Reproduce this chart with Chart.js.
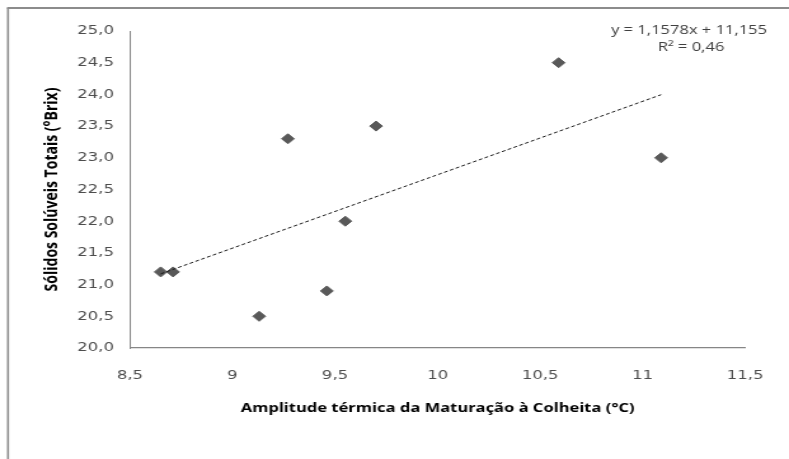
<!DOCTYPE html>
<html>
<head>
<meta charset="utf-8">
<script src="https://cdn.jsdelivr.net/npm/chart.js@4.4.1/dist/chart.umd.min.js"></script>
<style>
  html, body { margin: 0; padding: 0; background: #fff; }
  #wrap { width: 789px; height: 459px; }
</style>
</head>
<body>
<!-- the original figure was stretched sideways, so the canvas is drawn narrower and stretched back -->
<div id="wrap"><canvas id="chart" width="621" height="459" style="width:789px;height:459px;display:block"></canvas></div>
<script>
// amplitude térmica (°C) x sólidos solúveis totais (°Brix)
const amplitude = [8.65, 8.71, 9.13, 9.27, 9.46, 9.55, 9.70, 10.59, 11.09];
const brix = [21.2, 21.2, 20.5, 23.3, 20.9, 22.0, 23.5, 24.5, 23.0];

const xTickLabels = ['8,5', '9', '9,5', '10', '10,5', '11', '11,5'];
const yTickLabels = ['20,0', '20,5', '21,0', '21,5', '22,0', '22,5', '23,0', '23,5', '24,0', '24,5', '25,0'];

// linha de tendência (Excel)
const slope = 1.1578;
const intercept = 11.155;
const eqLabel = 'y = 1,1578x + 11,155';
const r2Label = 'R² = 0,46';

const xTitle = 'Amplitude térmica da Maturação à Colheita (°C)';
const yTitle = 'Sólidos Solúveis Totais (°Brix)';

const points = amplitude.map((x, i) => ({ x, y: brix[i] }));
const xMin = Math.min(...amplitude);
const xMax = Math.max(...amplitude);
const trend = [xMin, xMax].map(x => ({ x, y: slope * x + intercept }));

const tickFont = { family: '"DejaVu Sans", sans-serif', size: 13 };

const frame = {
  id: 'frame',
  beforeDraw(chart) {
    const ctx = chart.ctx;
    ctx.save();
    ctx.strokeStyle = '#8c8c8c';
    ctx.lineWidth = 1.6;
    ctx.beginPath();
    ctx.moveTo(6.3, 459);
    ctx.lineTo(6.3, 8);
    ctx.stroke();
    ctx.lineWidth = 2;
    ctx.beginPath();
    ctx.moveTo(5.5, 8);
    ctx.lineTo(621, 8);
    ctx.stroke();
    ctx.restore();
  }
};

const equation = {
  id: 'equation',
  afterDraw(chart) {
    const ctx = chart.ctx;
    ctx.save();
    ctx.font = '13px "Open Sans", sans-serif';
    ctx.fillStyle = '#404040';
    ctx.textAlign = 'center';
    ctx.textBaseline = 'middle';
    ctx.fillText(eqLabel, 542.3, 30);
    ctx.fillText(r2Label, 543.9, 47);
    ctx.restore();
  }
};

new Chart(document.getElementById('chart'), {
  type: 'scatter',
  data: {
    datasets: [
      {
        type: 'line',
        data: trend,
        showLine: true,
        borderColor: '#1a1a1a',
        borderWidth: 1,
        borderDash: [3, 2],
        pointRadius: 0,
        order: 0
      },
      {
        data: points,
        pointStyle: 'rectRot',
        pointRadius: 5,
        borderWidth: 1,
        backgroundColor: '#595959',
        borderColor: '#595959',
        order: 1
      }
    ]
  },
  options: {
    responsive: false,
    animation: false,
    layout: { padding: { top: 31, right: 23.6, left: 0, bottom: 0 } },
    plugins: {
      legend: { display: false },
      tooltip: { enabled: false }
    },
    scales: {
      x: {
        type: 'linear',
        min: 8.5,
        max: 11.5,
        ticks: {
          stepSize: 0.5,
          padding: 20,
          font: tickFont,
          color: '#4d4d4d',
          callback: (v, i) => xTickLabels[i]
        },
        grid: { display: false, drawTicks: false },
        border: { color: '#868686', width: 1.3 },
        title: {
          display: true,
          text: xTitle,
          font: { family: '"Open Sans", sans-serif', size: 13, weight: 'bold' },
          color: '#000',
          padding: { top: 0, bottom: 43 }
        },
        afterFit: s => { s.height = 111; }
      },
      y: {
        type: 'linear',
        min: 20,
        max: 25,
        ticks: {
          stepSize: 0.5,
          padding: 12.6,
          font: tickFont,
          color: '#4d4d4d',
          callback: (v, i) => yTickLabels[i]
        },
        grid: { display: false, drawTicks: false },
        border: { color: '#868686', width: 1 },
        title: {
          display: true,
          text: yTitle,
          font: { family: '"Open Sans", sans-serif', size: 14, weight: 'bold' },
          color: '#000',
          padding: { top: 32.5, bottom: 0 }
        },
        afterFit: s => { s.width = 102.3; }
      }
    }
  },
  plugins: [frame, equation]
});
</script>
</body>
</html>
